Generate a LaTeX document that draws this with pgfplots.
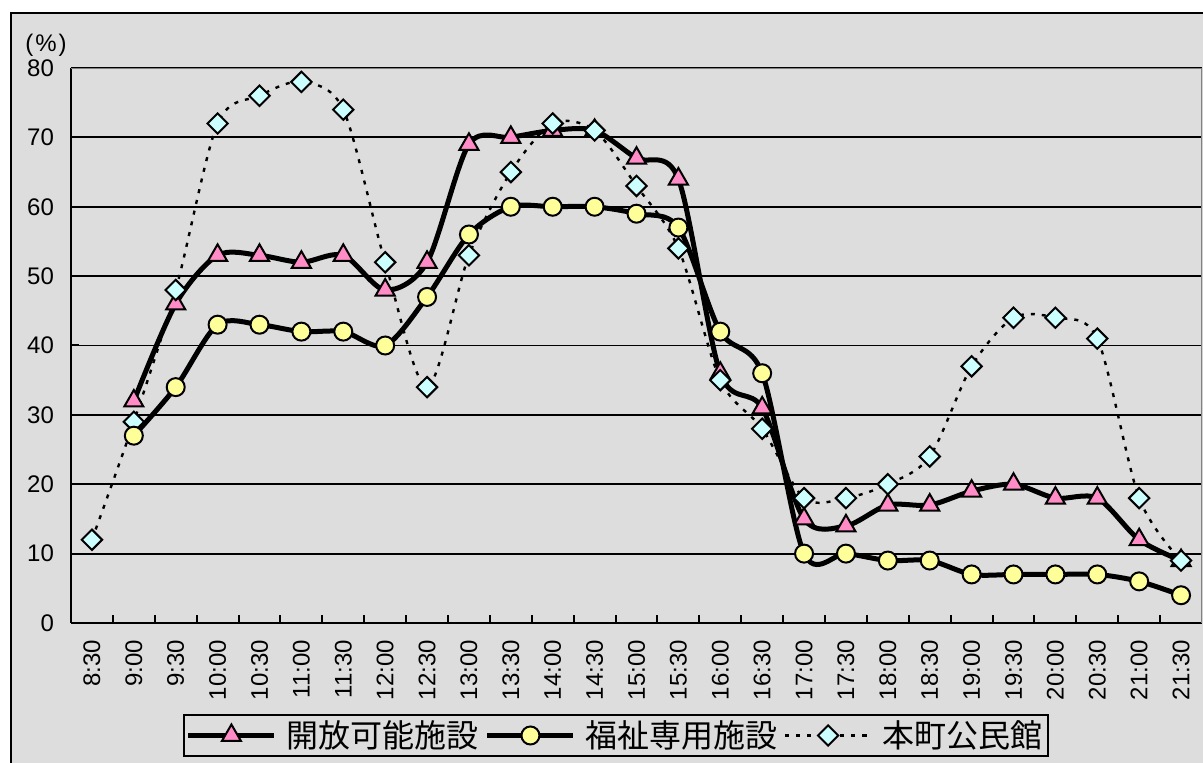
\documentclass[border=0pt]{standalone}
\usepackage{fontspec}
\setmainfont{Liberation Sans}
\newfontfamily\jp{Noto Sans CJK JP}
\usepackage{pgfplots}
\pgfplotsset{compat=1.18}
\definecolor{bg}{HTML}{DDDDDD}
\definecolor{tri}{HTML}{FF8CC6}
\definecolor{circ}{HTML}{FFFF99}
\definecolor{dia}{HTML}{CCFFFF}

\pgfplotsset{
  tri/.style={black, line width=2.5pt, smooth, mark=triangle*, mark size=5.5pt,
    mark options={fill=tri, draw=black, line width=1pt, solid}},
  circ/.style={black, line width=2.5pt, smooth, mark=*, mark size=4.5pt,
    mark options={fill=circ, draw=black, line width=1pt, solid}},
  dia/.style={black, line width=1.2pt, dash pattern=on 2pt off 3.5pt, smooth,
    mark=square*, mark size=3.6pt,
    mark options={rotate=45, fill=dia, draw=black, line width=1pt, solid}},
}

\begin{document}
\begin{tikzpicture}
\useasboundingbox (-35.5pt,-70pt) rectangle (566pt,311.5pt);
\fill[white] (-35.5pt,-70pt) rectangle (566pt,311.5pt);
\filldraw[fill=bg, draw=black, line width=1.2pt] (-30pt,-90pt) rectangle (590pt,305pt);
\begin{axis}[
    at={(0,0)}, anchor=south west, scale only axis,
    width=565.5pt, height=277.5pt,
    xmin=-0.5, xmax=26.5, ymin=0, ymax=80,
    axis lines*=left,
    axis line style={black, line width=1pt},
    ytick={0,10,...,80},
    ymajorgrids, grid style={black, line width=0.9pt},
    tick align=inside,
    major tick length=4pt, minor tick length=4pt,
    ytick style={black, line width=1pt},
    xtick={0,...,26},
    xticklabels={8:30,9:00,9:30,10:00,10:30,11:00,11:30,12:00,12:30,13:00,13:30,14:00,14:30,15:00,15:30,16:00,16:30,17:00,17:30,18:00,18:30,19:00,19:30,20:00,20:30,21:00,21:30},
    major x tick style={draw=none},
    minor xtick={0.5,1.5,...,25.5},
    minor x tick style={black, line width=1pt},
    x tick label style={rotate=90, anchor=east, font=\fontsize{12}{14}\selectfont},
    y tick label style={font=\fontsize{12}{14}\selectfont},
    xticklabel shift=5pt, yticklabel shift=5pt,
    /pgf/number format/assume math mode=true,
    legend columns=3,
    legend style={at={(0.482,-0.2027)}, anchor=center, draw=black, line width=1pt,
      fill=bg, font=\jp\fontsize{16}{18}\selectfont, inner xsep=1pt, inner ysep=1pt,
      /tikz/every odd column/.append style={column sep=3pt},
      /tikz/every even column/.append style={column sep=1pt}},
    legend image code/.code={\draw[mark repeat=2,mark phase=2,#1] plot coordinates {(0pt,0pt) (21.5pt,0pt) (43pt,0pt)};},
]
\addlegendimage{tri}
\addlegendentry{開放可能施設}
\addlegendimage{circ}
\addlegendentry{福祉専用施設}
\addlegendimage{dia}
\addlegendentry{本町公民館}

\draw[gray, line width=1pt] (rel axis cs:0,1) -- (rel axis cs:1,1) -- (rel axis cs:1,0);

% 開放可能施設
\addplot[tri, forget plot] coordinates {
(1,32) (2,46) (3,53) (4,53) (5,52) (6,53) (7,48) (8,52) (9,69) (10,70)
(11,71) (12,71) (13,67) (14,64) (15,36) (16,31) (17,15) (18,14) (19,17) (20,17)
(21,19) (22,20) (23,18) (24,18) (25,12) (26,9)
};
% 本町公民館
\addplot[dia, forget plot] coordinates {
(0,12) (1,29) (2,48) (3,72) (4,76) (5,78) (6,74) (7,52) (8,34) (9,53) (10,65)
(11,72) (12,71) (13,63) (14,54) (15,35) (16,28) (17,18) (18,18) (19,20) (20,24)
(21,37) (22,44) (23,44) (24,41) (25,18) (26,9)
};
% 福祉専用施設
\addplot[circ, forget plot] coordinates {
(1,27) (2,34) (3,43) (4,43) (5,42) (6,42) (7,40) (8,47) (9,56) (10,60)
(11,60) (12,60) (13,59) (14,57) (15,42) (16,36) (17,10) (18,10) (19,9) (20,9)
(21,7) (22,7) (23,7) (24,7) (25,6) (26,4)
};
\end{axis}
\node[font=\fontsize{12}{14}\selectfont] at (-12.5pt,289pt) {(\kern1pt\%\kern1pt)};
\end{tikzpicture}
\end{document}
